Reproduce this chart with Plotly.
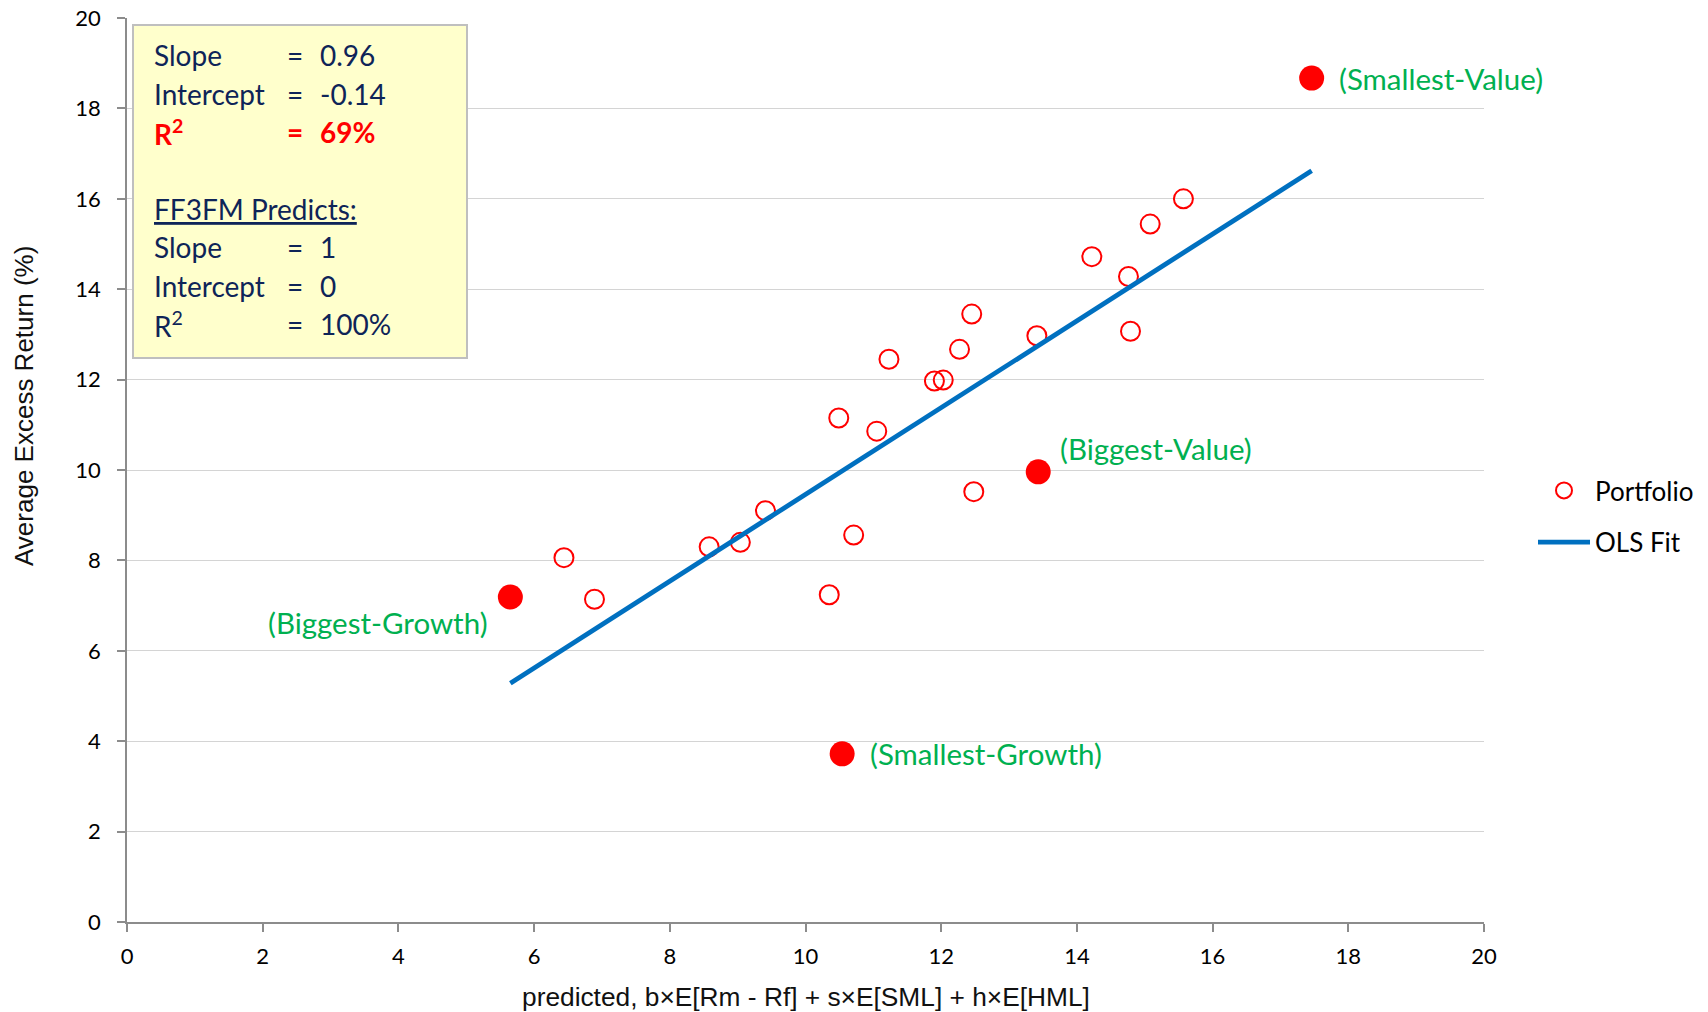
import plotly.graph_objects as go

# ---------------- data ----------------
open_x = [6.44, 6.89, 8.58, 9.04, 9.41, 10.35, 10.49, 10.71, 11.05, 11.23, 11.90,
          12.03, 12.27, 12.45, 12.48, 13.41, 14.22, 14.76, 14.79, 15.08, 15.57]
open_y = [8.06, 7.14, 8.30, 8.40, 9.10, 7.24, 11.15, 8.56, 10.86, 12.45, 11.97,
          11.99, 12.67, 13.45, 9.52, 12.97, 14.72, 14.28, 13.07, 15.44, 16.00]

filled_names = ["(Smallest-Value)", "(Biggest-Value)", "(Smallest-Growth)", "(Biggest-Growth)"]
filled_x = [17.46, 13.43, 10.54, 5.65]
filled_y = [18.67, 9.96, 3.72, 7.19]

ols_slope = 0.96
ols_intercept = -0.14

box_labels = ["Slope", "Intercept", "R<sup>2</sup>", "", "<u>FF3FM Predicts:</u>", "Slope", "Intercept", "R<sup>2</sup>"]
box_values = ["0.96", "-0.14", "69%", "", "", "1", "0", "100%"]

x_ticks = [0, 2, 4, 6, 8, 10, 12, 14, 16, 18, 20]
y_ticks = [0, 2, 4, 6, 8, 10, 12, 14, 16, 18, 20]

# ---------------- figure ----------------
W, H = 1708, 1012
ML, MR, MT, MB = 127, 224, 18, 90
PW, PH = W - ML - MR, H - MT - MB


def px(x):
    return (x - ML) / PW


def py(y):
    return (H - MB - y) / PH


all_x = open_x + filled_x
x_lo, x_hi = min(all_x), max(all_x)

fig = go.Figure()
fig.add_trace(go.Scatter(
    x=open_x, y=open_y, mode="markers", name="Portfolio",
    legendgroup="a",
    marker=dict(symbol="circle-open", size=19, color="#FF0000", line=dict(width=2, color="#FF0000")),
))
fig.add_trace(go.Scatter(
    x=filled_x, y=filled_y, mode="markers", showlegend=False,
    marker=dict(symbol="circle", size=25, color="#FF0000"),
))
fig.add_trace(go.Scatter(
    x=[x_lo, x_hi], y=[ols_slope * x_lo + ols_intercept, ols_slope * x_hi + ols_intercept],
    mode="lines", name="OLS Fit", legendgroup="b",
    line=dict(color="#0070C0", width=4.8),
))

axis_common = dict(
    range=[0, 20], showline=True, linecolor="#8C8C8C", linewidth=1.5,
    ticks="outside", ticklen=8, tickcolor="#8C8C8C", tickwidth=1.5,
    tickfont=dict(family="Lato", size=22, color="#000000"),
    zeroline=False, fixedrange=True, automargin=False,
)
fig.update_xaxes(**axis_common, tickvals=x_ticks, showgrid=False, ticklabelstandoff=6)
fig.update_yaxes(**axis_common, tickvals=y_ticks, showgrid=True, gridcolor="#D4D4D4", gridwidth=1,
                 ticklabelstandoff=12)

annotations = []
# axis titles
annotations.append(dict(text="predicted, b×E[Rm - Rf] + s×E[SML] + h×E[HML]", xref="paper", yref="paper",
                        x=0.5, y=py(997), xanchor="center", yanchor="middle", showarrow=False,
                        font=dict(family="Liberation Sans", size=26.3, color="#111111")))
annotations.append(dict(text="Average Excess Return (%)", xref="paper", yref="paper",
                        x=px(24), y=py(406), xanchor="center", yanchor="middle", showarrow=False,
                        textangle=-90, font=dict(family="Liberation Sans", size=26, color="#111111")))

# stats box text
navy = "#0E2458"
row_centers = [55, 94, 132, 170, 209, 247, 286, 324]
for i, (lab, val) in enumerate(zip(box_labels, box_values)):
    if lab == "":
        continue
    red = (i == 2)
    col = "#FF0000" if red else navy
    f = dict(family="Lato", size=28, color=col)
    if red:
        lab_t, eq_t, val_t = f"<b>{lab}</b>", "<b>=</b>", f"<b>{val}</b>"
    else:
        lab_t, eq_t, val_t = lab, "=", val
    annotations.append(dict(text=lab_t, xref="paper", yref="paper", x=px(152), y=py(row_centers[i]),
                            xanchor="left", yanchor="middle", showarrow=False, font=f))
    if val != "":
        annotations.append(dict(text=eq_t, xref="paper", yref="paper", x=px(285), y=py(row_centers[i]),
                                xanchor="left", yanchor="middle", showarrow=False, font=f))
        annotations.append(dict(text=val_t, xref="paper", yref="paper", x=px(318), y=py(row_centers[i]),
                                xanchor="left", yanchor="middle", showarrow=False, font=f))

# point labels
offsets = [(25, 0, "left"), (20, 23, "left"), (26, 0, "left"), (-20, -25, "right")]
for name, xv, yv, (dx, dy, anc) in zip(filled_names, filled_x, filled_y, offsets):
    annotations.append(dict(text=name, x=xv, y=yv, xref="x", yref="y", showarrow=False,
                            xanchor=anc, yanchor="middle", xshift=dx, yshift=dy,
                            font=dict(family="Lato", size=29.5, color="#00B050")))

fig.update_layout(
    width=W, height=H,
    margin=dict(l=ML, r=MR, t=MT, b=MB, autoexpand=False),
    paper_bgcolor="white", plot_bgcolor="white",
    showlegend=True,
    legend=dict(x=px(1533), y=py(467), xanchor="left", yanchor="top",
                font=dict(family="Lato", size=26, color="#000000"),
                itemwidth=52, tracegroupgap=15, traceorder="grouped",
                bgcolor="rgba(0,0,0,0)"),
    shapes=[dict(type="rect", xref="paper", yref="paper",
                 x0=px(133), x1=px(467), y0=py(358), y1=py(25),
                 fillcolor="#FFFFCC", line=dict(color="#BFBFBF", width=2), layer="above")],
    annotations=annotations,
)

fig.write_html("out.html", config={"displayModeBar": False},
               post_script="document.body.style.margin='0px';document.body.style.overflow='hidden';")
